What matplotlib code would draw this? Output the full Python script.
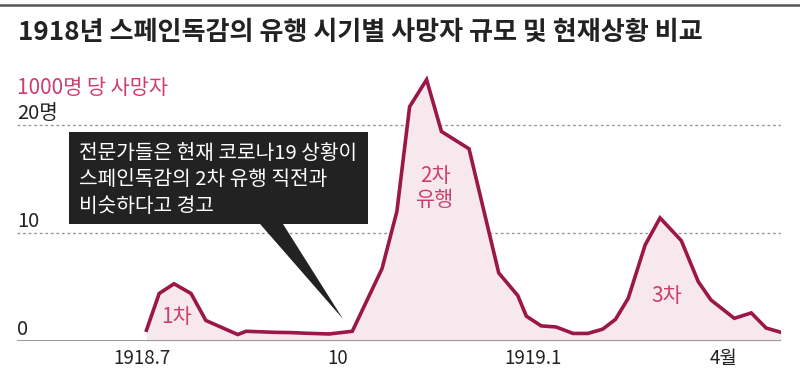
import matplotlib
matplotlib.use("Agg")
import matplotlib.pyplot as plt
from matplotlib.patches import Polygon, Rectangle
import pandas as pd

plt.rcParams['font.family'] = ['Noto Sans CJK KR', 'DejaVu Sans']

# weekly deaths per 1000
dates = ["1918-07-03", "1918-07-09", "1918-07-16", "1918-07-24", "1918-07-31",
         "1918-08-15", "1918-08-19", "1918-08-26", "1918-09-02", "1918-09-09",
         "1918-09-16", "1918-09-27", "1918-10-08", "1918-10-22", "1918-10-29",
         "1918-11-04", "1918-11-12", "1918-11-19", "1918-12-02", "1918-12-16",
         "1918-12-25", "1918-12-29", "1919-01-05", "1919-01-12", "1919-01-20",
         "1919-01-27", "1919-02-03", "1919-02-09", "1919-02-15", "1919-02-23",
         "1919-03-02", "1919-03-12", "1919-03-20", "1919-03-26", "1919-04-06",
         "1919-04-14", "1919-04-21", "1919-04-28"]
deaths = [1.0, 4.4, 5.3, 4.4, 1.9,
          0.6, 0.9, 0.85, 0.8, 0.78,
          0.72, 0.65, 0.9, 6.7, 12.0,
          21.7, 24.2, 19.4, 17.8, 6.3,
          4.2, 2.3, 1.4, 1.3, 0.7,
          0.7, 1.1, 2.0, 3.95, 8.9,
          11.4, 9.3, 5.5, 3.8, 2.1,
          2.6, 1.2, 0.8]

tick_dates = ["1918-07-01", "1918-10-01", "1919-01-01", "1919-04-01"]
tick_labels = ["1918.7", "10", "1919.1", "4월"]
ytick_vals = [0, 10, 20]
ytick_labels = ["0", "10", "20명"]

wave_labels = ["1차", "2차\n유행", "3차"]
wave_x = ["1918-07-17", "1918-11-16", "1919-03-05"]
wave_y = [2.25, 14.2, 4.2]

title = "1918년 스페인독감의 유행 시기별 사망자 규모 및 현재상황 비교"
unit = "1000명 당 사망자"
note = "전문가들은 현재 코로나19 상황이\n스페인독감의 2차 유행 직전과\n비슷하다고 경고"

LINE = "#9a1747"
FILL = "#f6e8ec"
LABEL = "#cf3f6c"
TEXT = "#222222"

x = pd.to_datetime(dates)

fig = plt.figure(figsize=(8, 3.76), dpi=100)
ax = fig.add_axes([0.02125, 0.0931, 0.955, 0.718])

ax.fill_between(x, deaths, 0, color=FILL, lw=0)
ax.plot(x, deaths, color=LINE, lw=2.6, solid_joinstyle='miter')

ax.set_xlim(pd.Timestamp("1918-05-03"), pd.Timestamp("1919-04-28"))
ax.set_ylim(0, 25)

for s in ax.spines.values():
    s.set_visible(False)
ax.axhline(0, color="#888888", lw=1.2, zorder=3)
for v in ytick_vals[1:]:
    ax.axhline(v, color="#999999", lw=1, dashes=(2, 2), zorder=0)

ax.set_yticks([])
ax.set_xticks(pd.to_datetime(tick_dates))
ax.set_xticklabels(tick_labels, fontsize=13.5, color=TEXT)
ax.tick_params(axis='x', length=0, pad=5)

tr = ax.get_yaxis_transform()
for v, lab in zip(ytick_vals, ytick_labels):
    ax.text(0.0, v + 0.1, lab, transform=tr, ha='left', va='bottom',
            fontsize=14.5, color=TEXT)
ax.text(0.0, 23.4, unit, transform=tr, ha='left', va='center',
        fontsize=15, color=LABEL)

for lab, wx, wy in zip(wave_labels, wave_x, wave_y):
    ax.text(pd.Timestamp(wx), wy, lab, ha='center', va='center',
            fontsize=15, color=LABEL, linespacing=1.1)

# callout box
ax.add_patch(Rectangle((0.068, 0.433), 0.391, 0.341, transform=ax.transAxes,
                       facecolor="#222222", edgecolor='none', zorder=5))
ax.add_patch(Polygon([(0.318, 0.434), (0.348, 0.434), (0.4267, 0.0815)],
                     closed=True, transform=ax.transAxes,
                     facecolor="#222222", edgecolor='none', zorder=5))
ax.text(0.0812, 0.597, note, transform=ax.transAxes, ha='left', va='center',
        fontsize=14.6, color='white', linespacing=1.36, zorder=6)

fig.text(0.0225, 0.915, title, ha='left', va='center', fontsize=18.8,
         fontweight='bold', color=TEXT)
fig.add_artist(plt.Line2D([0, 1], [0.987, 0.987], transform=fig.transFigure,
                          color="#555555", lw=1.8))

fig.savefig("out.png", dpi=100)
